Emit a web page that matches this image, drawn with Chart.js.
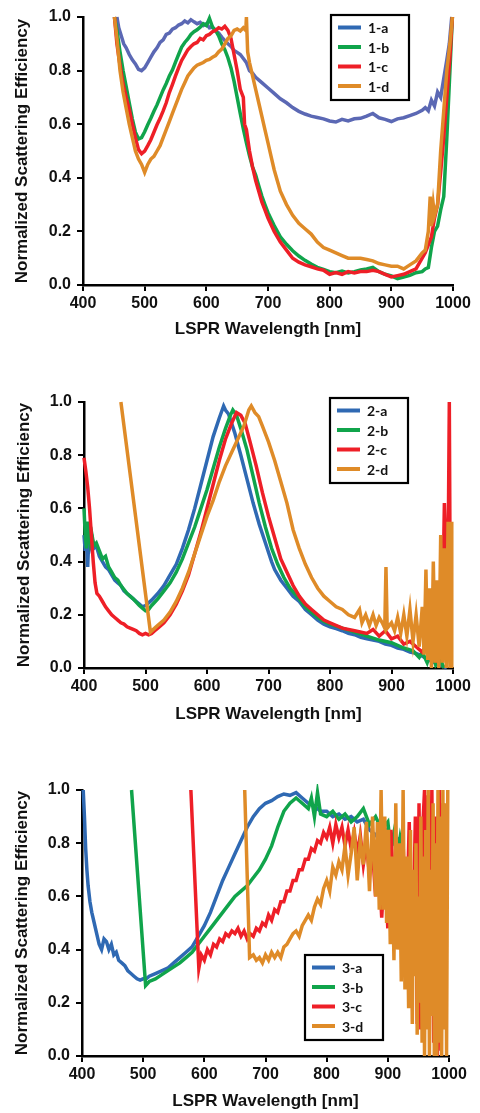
<!DOCTYPE html>
<html lang="en">
<head>
<meta charset="UTF-8">
<title>Normalized scattering spectra</title>
<script src="https://cdn.jsdelivr.net/npm/chart.js@4.4.0/dist/chart.umd.min.js"></script>
<style>
  body { margin: 0; background: #fff; }
  .panel { position: absolute; left: 0; width: 480px; }
  canvas { display: block; }
</style>
</head>
<body>
<div class="panel" style="top:0px"><canvas id="c1" width="480" height="350"></canvas></div>
<div class="panel" style="top:370px"><canvas id="c2" width="480" height="360"></canvas></div>
<div class="panel" style="top:750px"><canvas id="c3" width="480" height="363"></canvas></div>
<script>
// axis settings
const xMin = 400, xMax = 1000, xStep = 100;
const yMin = 0, yMax = 1, yStep = 0.2;
const xTitle = 'LSPR Wavelength [nm]';
const yTitle = 'Normalized Scattering Efficiency';

// panel 1  [wavelength nm, normalized value]
const names1 = ['1-a', '1-b', '1-c', '1-d'];
const s1a = [[455,1.0],[458,0.96],[462,0.93],[466,0.9],[470,0.885],[475,0.86],[480,0.84],[485,0.825],[490,0.805],[495,0.8],[500,0.81],[505,0.83],[510,0.85],[515,0.87],[520,0.885],[525,0.905],[530,0.915],[535,0.935],[540,0.94],[545,0.955],[550,0.96],[555,0.97],[560,0.975],[565,0.985],[570,0.978],[575,0.99],[580,0.982],[585,0.975],[590,0.98],[595,0.968],[600,0.975],[605,0.96],[610,0.962],[615,0.948],[620,0.94],[625,0.925],[630,0.912],[635,0.9],[640,0.89],[645,0.875],[650,0.868],[655,0.86],[660,0.845],[665,0.83],[670,0.8],[675,0.79],[680,0.775],[690,0.755],[700,0.735],[710,0.715],[720,0.695],[730,0.68],[740,0.662],[750,0.648],[760,0.638],[770,0.63],[780,0.625],[790,0.62],[800,0.612],[810,0.608],[820,0.618],[830,0.612],[840,0.62],[850,0.622],[860,0.63],[870,0.64],[880,0.624],[890,0.618],[900,0.61],[910,0.62],[920,0.624],[930,0.632],[940,0.64],[950,0.652],[955,0.662],[960,0.65],[965,0.69],[970,0.668],[975,0.72],[980,0.7],[985,0.77],[990,0.84],[994,0.9],[998,1.0]];
const s1b = [[451,1.0],[455,0.95],[460,0.87],[465,0.8],[470,0.74],[475,0.68],[480,0.62],[485,0.57],[490,0.545],[495,0.55],[500,0.572],[505,0.598],[510,0.622],[515,0.648],[520,0.672],[525,0.7],[530,0.728],[535,0.752],[540,0.78],[545,0.802],[550,0.832],[555,0.86],[560,0.888],[565,0.905],[570,0.918],[575,0.935],[580,0.945],[585,0.952],[590,0.962],[595,0.975],[600,0.968],[605,0.995],[610,0.962],[615,0.95],[620,0.93],[625,0.9],[630,0.878],[635,0.848],[640,0.81],[645,0.76],[650,0.7],[655,0.64],[660,0.582],[665,0.53],[670,0.482],[675,0.44],[680,0.41],[685,0.37],[690,0.332],[695,0.3],[700,0.27],[710,0.222],[720,0.18],[730,0.152],[740,0.128],[750,0.108],[760,0.092],[770,0.078],[780,0.066],[790,0.058],[800,0.05],[810,0.046],[820,0.052],[830,0.045],[840,0.05],[850,0.056],[860,0.06],[870,0.066],[880,0.05],[890,0.04],[900,0.034],[910,0.024],[920,0.03],[930,0.036],[940,0.046],[950,0.05],[955,0.06],[960,0.065],[965,0.14],[970,0.2],[975,0.22],[980,0.28],[985,0.33],[990,0.55],[995,0.8],[999,1.0]];
const s1c = [[451,1.0],[455,0.9],[460,0.82],[465,0.75],[470,0.7],[475,0.655],[480,0.6],[485,0.55],[490,0.505],[495,0.49],[500,0.5],[505,0.52],[510,0.542],[515,0.57],[520,0.598],[525,0.622],[530,0.65],[535,0.68],[540,0.718],[545,0.748],[550,0.78],[555,0.81],[560,0.838],[565,0.858],[570,0.878],[575,0.89],[580,0.9],[585,0.905],[590,0.92],[595,0.915],[600,0.93],[605,0.935],[610,0.945],[615,0.95],[620,0.96],[625,0.955],[630,0.965],[635,0.95],[640,0.92],[645,0.86],[650,0.8],[655,0.73],[660,0.7],[662,0.6],[665,0.58],[670,0.5],[675,0.44],[680,0.39],[685,0.35],[690,0.31],[695,0.28],[700,0.25],[710,0.2],[720,0.16],[730,0.13],[740,0.1],[750,0.085],[760,0.075],[770,0.068],[780,0.06],[790,0.055],[800,0.04],[810,0.046],[820,0.04],[830,0.05],[840,0.045],[850,0.05],[860,0.05],[870,0.055],[880,0.05],[890,0.04],[900,0.03],[910,0.035],[920,0.04],[930,0.05],[940,0.06],[950,0.1],[955,0.12],[960,0.15],[965,0.18],[970,0.25],[975,0.3],[980,0.42],[985,0.55],[990,0.7],[995,0.85],[999,1.0]];
const s1d = [[451,1.0],[455,0.92],[460,0.8],[465,0.72],[470,0.66],[475,0.6],[480,0.55],[485,0.5],[490,0.47],[495,0.45],[500,0.42],[505,0.45],[510,0.47],[515,0.48],[520,0.5],[525,0.52],[530,0.55],[535,0.58],[540,0.61],[545,0.64],[550,0.67],[555,0.7],[560,0.73],[565,0.755],[570,0.78],[575,0.795],[580,0.81],[585,0.82],[590,0.825],[595,0.83],[600,0.838],[605,0.842],[610,0.85],[615,0.856],[620,0.87],[625,0.88],[630,0.9],[635,0.92],[640,0.93],[645,0.95],[650,0.955],[655,0.948],[660,0.96],[664,0.95],[665,1.0],[667,0.87],[670,0.83],[675,0.78],[680,0.73],[685,0.68],[690,0.63],[695,0.58],[700,0.53],[705,0.48],[710,0.43],[715,0.39],[720,0.35],[730,0.3],[740,0.26],[750,0.23],[760,0.21],[770,0.19],[780,0.16],[790,0.14],[800,0.13],[810,0.12],[820,0.11],[830,0.1],[840,0.1],[850,0.1],[860,0.095],[870,0.09],[880,0.08],[890,0.075],[900,0.07],[910,0.07],[920,0.06],[930,0.075],[940,0.09],[950,0.12],[955,0.13],[960,0.2],[963,0.33],[965,0.22],[968,0.3],[970,0.26],[975,0.3],[980,0.5],[985,0.65],[990,0.8],[995,0.9],[999,1.0]];

// panel 2
const names2 = ['2-a', '2-b', '2-c', '2-d'];
const s2a = [[400,0.5],[402,0.44],[404,0.52],[406,0.38],[408,0.5],[410,0.46],[413,0.49],[416,0.45],[420,0.46],[425,0.42],[430,0.4],[435,0.38],[440,0.37],[445,0.35],[450,0.33],[455,0.32],[460,0.31],[465,0.29],[470,0.28],[475,0.27],[480,0.26],[485,0.25],[490,0.24],[495,0.23],[500,0.235],[505,0.245],[510,0.255],[520,0.28],[530,0.31],[540,0.35],[550,0.39],[560,0.45],[570,0.52],[580,0.6],[590,0.69],[600,0.78],[610,0.87],[620,0.94],[627,0.985],[630,0.97],[635,0.955],[645,0.885],[655,0.8],[665,0.71],[675,0.62],[685,0.54],[695,0.47],[705,0.4],[710,0.37],[720,0.33],[730,0.3],[740,0.27],[750,0.25],[760,0.22],[770,0.2],[780,0.18],[790,0.165],[800,0.155],[810,0.148],[820,0.14],[830,0.13],[840,0.125],[850,0.115],[860,0.11],[870,0.105],[880,0.1],[890,0.09],[900,0.085],[910,0.075],[920,0.07],[930,0.06],[940,0.055],[950,0.045],[960,0.03],[970,0.02],[980,0.01],[990,0.0]];
const s2b = [[400,0.6],[402,0.5],[404,0.45],[406,0.55],[408,0.5],[410,0.47],[413,0.5],[416,0.46],[420,0.47],[425,0.44],[430,0.41],[435,0.42],[440,0.38],[445,0.36],[450,0.34],[455,0.33],[460,0.31],[470,0.28],[480,0.26],[490,0.235],[495,0.225],[500,0.215],[505,0.22],[510,0.235],[520,0.26],[530,0.29],[540,0.32],[550,0.36],[560,0.41],[570,0.47],[580,0.53],[590,0.6],[600,0.67],[610,0.75],[620,0.83],[630,0.9],[638,0.95],[642,0.97],[648,0.95],[655,0.9],[665,0.82],[675,0.72],[685,0.62],[695,0.53],[705,0.45],[715,0.39],[725,0.34],[735,0.3],[750,0.26],[760,0.23],[770,0.21],[780,0.19],[790,0.175],[800,0.165],[820,0.15],[840,0.135],[860,0.12],[880,0.105],[900,0.095],[920,0.075],[935,0.065],[945,0.04],[950,0.06],[958,0.02],[965,0.07],[972,0.01],[980,0.03],[985,0.0]];
const s2c = [[400,0.79],[403,0.74],[406,0.68],[409,0.6],[412,0.5],[415,0.4],[418,0.32],[421,0.28],[425,0.27],[430,0.25],[435,0.23],[440,0.215],[445,0.2],[450,0.19],[455,0.18],[460,0.17],[465,0.165],[470,0.155],[475,0.15],[480,0.145],[485,0.14],[490,0.13],[495,0.125],[500,0.13],[505,0.125],[510,0.13],[515,0.14],[520,0.15],[530,0.17],[540,0.2],[550,0.24],[560,0.29],[570,0.35],[580,0.43],[590,0.51],[600,0.6],[610,0.69],[620,0.78],[630,0.86],[640,0.92],[648,0.96],[655,0.95],[662,0.92],[670,0.85],[680,0.76],[690,0.66],[700,0.57],[710,0.49],[720,0.41],[730,0.36],[740,0.31],[750,0.27],[760,0.24],[770,0.22],[780,0.2],[790,0.18],[800,0.17],[820,0.15],[840,0.14],[860,0.13],[870,0.145],[880,0.12],[890,0.14],[900,0.11],[910,0.12],[920,0.09],[930,0.1],[940,0.08],[950,0.06],[958,0.09],[965,0.03],[970,0.1],[975,0.02],[979,0.32],[982,0.05],[986,0.62],[989,0.4],[991,0.1],[994,1.0],[996,0.02]];
const s2d = [[460,1.0],[508,0.135],[515,0.15],[520,0.16],[530,0.18],[540,0.21],[550,0.25],[560,0.3],[570,0.36],[580,0.43],[590,0.5],[600,0.57],[610,0.63],[620,0.7],[630,0.76],[640,0.81],[650,0.86],[660,0.91],[668,0.97],[672,0.985],[678,0.96],[684,0.945],[690,0.91],[700,0.85],[710,0.78],[720,0.7],[730,0.62],[740,0.52],[750,0.45],[760,0.39],[770,0.34],[780,0.3],[790,0.27],[800,0.25],[810,0.23],[820,0.22],[830,0.2],[840,0.19],[848,0.22],[852,0.17],[858,0.2],[864,0.16],[870,0.2],[875,0.16],[880,0.19],[885,0.17],[889,0.15],[891,0.38],[893,0.15],[900,0.17],[905,0.14],[910,0.19],[915,0.13],[920,0.2],[925,0.12],[930,0.22],[935,0.1],[940,0.2],[945,0.08],[950,0.23],[953,0.05],[956,0.37],[959,0.03],[962,0.3],[965,0.0],[968,0.4],[971,0.02],[974,0.33],[977,0.0],[980,0.5],[983,0.02],[986,0.45],[989,0.0],[992,0.55],[995,0.0],[997,0.55],[998,0.0]];

// panel 3
const names3 = ['3-a', '3-b', '3-c', '3-d'];
const s3a = [[402,1.0],[404,0.9],[406,0.78],[408,0.7],[410,0.64],[413,0.58],[416,0.54],[420,0.5],[424,0.46],[428,0.42],[432,0.4],[436,0.44],[440,0.43],[444,0.4],[448,0.42],[452,0.38],[456,0.39],[460,0.36],[465,0.35],[470,0.34],[475,0.32],[480,0.31],[485,0.3],[490,0.29],[495,0.285],[500,0.29],[505,0.29],[510,0.3],[520,0.31],[530,0.32],[540,0.33],[550,0.35],[560,0.37],[570,0.39],[580,0.41],[590,0.45],[600,0.49],[610,0.54],[620,0.6],[630,0.66],[640,0.71],[650,0.76],[660,0.81],[670,0.86],[680,0.9],[690,0.93],[700,0.95],[710,0.96],[720,0.975],[730,0.985],[740,0.98],[750,0.99],[760,0.97],[770,0.95],[780,0.94],[790,0.92],[800,0.92],[810,0.9],[820,0.91],[830,0.89],[840,0.9],[850,0.88],[860,0.89],[870,0.85],[880,0.83],[890,0.86],[900,0.85],[910,0.8],[920,0.82],[925,0.78]];
const s3b = [[481,1.0],[504,0.265],[510,0.28],[520,0.29],[530,0.305],[540,0.32],[550,0.335],[560,0.35],[570,0.37],[580,0.39],[590,0.42],[600,0.45],[610,0.48],[620,0.51],[630,0.54],[640,0.57],[650,0.6],[660,0.62],[670,0.64],[680,0.67],[690,0.7],[700,0.74],[710,0.79],[720,0.86],[730,0.92],[740,0.95],[750,0.97],[760,0.95],[770,0.93],[775,0.97],[780,0.9],[785,0.99],[790,0.91],[800,0.9],[810,0.92],[820,0.89],[830,0.91],[840,0.88],[850,0.9],[860,0.93],[870,0.87],[880,0.9],[890,0.85],[900,0.88],[905,0.78],[910,0.84],[915,0.74],[920,0.82],[925,0.76]];
const s3c = [[578,1.0],[591,0.33],[595,0.38],[600,0.36],[605,0.4],[610,0.38],[615,0.42],[620,0.41],[625,0.44],[630,0.43],[635,0.46],[640,0.45],[645,0.47],[650,0.46],[655,0.48],[660,0.45],[665,0.47],[670,0.44],[675,0.46],[680,0.45],[685,0.48],[690,0.47],[695,0.5],[700,0.49],[705,0.53],[710,0.51],[715,0.55],[720,0.54],[725,0.58],[730,0.58],[735,0.62],[740,0.62],[745,0.66],[750,0.66],[755,0.7],[760,0.7],[765,0.74],[770,0.74],[775,0.78],[780,0.77],[785,0.81],[790,0.8],[795,0.84],[800,0.82],[805,0.86],[810,0.8],[815,0.87],[820,0.82],[825,0.86],[830,0.79],[835,0.85],[840,0.78],[845,0.84],[850,0.76],[855,0.83],[860,0.72],[865,0.8],[870,0.68],[875,0.77],[880,0.6],[885,0.75],[890,0.52],[895,0.72],[900,0.48],[905,0.85],[910,0.6],[915,0.72],[920,0.5],[925,0.8],[930,0.42],[935,0.88],[940,0.3],[945,0.9],[948,0.12],[951,0.95],[954,0.1],[957,0.85],[960,1.0],[963,0.3],[966,0.98],[969,0.2],[972,1.0],[975,0.05],[978,0.9],[981,0.0],[984,1.0],[987,0.02],[990,0.95],[993,0.85]];
const s3d = [[666,1.0],[674,0.37],[680,0.38],[685,0.36],[690,0.37],[695,0.35],[700,0.38],[705,0.36],[710,0.39],[715,0.37],[720,0.39],[725,0.37],[730,0.41],[735,0.42],[740,0.44],[745,0.46],[750,0.47],[755,0.45],[760,0.49],[765,0.51],[770,0.53],[775,0.51],[780,0.56],[785,0.59],[790,0.57],[795,0.63],[800,0.66],[805,0.62],[810,0.71],[815,0.68],[820,0.73],[825,0.7],[830,0.79],[835,0.68],[840,0.76],[845,0.86],[850,0.66],[855,0.81],[860,0.72],[865,0.88],[870,0.62],[875,0.9],[880,0.6],[883,0.88],[886,0.55],[889,1.0],[892,0.55],[895,0.9],[898,0.5],[901,0.85],[904,0.42],[907,0.75],[910,0.36],[913,0.95],[916,0.4],[919,0.8],[922,0.28],[925,1.0],[928,0.25],[931,0.75],[934,0.18],[937,0.85],[940,0.12],[942,0.7],[944,0.3],[946,0.8],[948,0.08],[950,0.6],[952,0.2],[954,0.9],[956,0.05],[958,0.75],[960,0.0],[962,0.85],[964,0.1],[966,1.0],[968,0.0],[970,0.7],[972,0.15],[974,0.95],[976,0.0],[978,0.8],[980,0.0],[982,1.0],[984,0.05],[986,0.9],[988,0.0],[990,1.0],[992,0.1],[994,0.95],[996,0.0],[998,1.0]];

const colors = ['#2f69b3', '#10a44b', '#ee1f27', '#df8b28'];
const colors1 = ['#5b68b4', '#10a44b', '#ee1f27', '#df8b28'];

const FONT = "'Liberation Sans', Arial, sans-serif";

// legend drawn as a framed box inside the plot
const boxLegend = {
    id: 'boxLegend',
    afterDatasetsDraw(chart, args, opts) {
        const ctx = chart.ctx;
        const l = opts.left, t = opts.top;
        ctx.save();
        ctx.fillStyle = '#fff';
        ctx.fillRect(l, t, 78, 85);
        ctx.lineWidth = 2.2;
        ctx.strokeStyle = '#000';
        ctx.strokeRect(l, t, 78, 85);
        ctx.font = "bold 14px Lato, 'Open Sans', sans-serif";
        ctx.textBaseline = 'middle';
        chart.data.datasets.forEach((ds, i) => {
            const y = t + 12.5 + i * 19.5;
            ctx.strokeStyle = ds.legendColor || ds.borderColor;
            ctx.lineWidth = 4;
            ctx.beginPath();
            ctx.moveTo(l + 7, y);
            ctx.lineTo(l + 30, y);
            ctx.stroke();
            ctx.fillStyle = '#111';
            ctx.fillText(ds.label, l + 37, y + 1);
        });
        ctx.restore();
    }
};

function makeChart(id, series, names, lineColors, area, legendAt, pads) {
    const canvas = document.getElementById(id);
    const H = canvas.height;
    return new Chart(canvas, {
        type: 'line',
        data: {
            datasets: series.map((s, i) => ({
                label: names[i],
                data: s.map(p => ({ x: p[0], y: p[1] })),
                borderColor: lineColors[i],
                legendColor: colors[i],
                borderWidth: 3.5,
                pointRadius: 0,
                tension: 0,
                fill: false,
                clip: 6,
                order: series.length - 1 - i
            }))
        },
        options: {
            responsive: false,
            animation: false,
            events: [],
            layout: { padding: { top: area.top, right: 480 - area.right, left: 0, bottom: 0 } },
            plugins: {
                legend: { display: false },
                tooltip: { enabled: false },
                boxLegend: legendAt
            },
            scales: {
                x: {
                    type: 'linear',
                    min: xMin, max: xMax,
                    afterFit: s => { s.height = H - area.bottom; },
                    ticks: { stepSize: xStep, color: '#111', padding: 3, maxRotation: 0, autoSkip: false,
                             callback: v => String(v),
                             font: { family: FONT, size: 16, weight: 'bold' } },
                    grid: { drawOnChartArea: false, drawTicks: true, tickLength: 6, color: '#000', lineWidth: 2 },
                    border: { display: true, color: '#000', width: 2.5 },
                    title: { display: true, text: xTitle, color: '#111',
                             font: { family: FONT, size: 17, weight: 'bold' },
                             padding: { top: 0, bottom: pads.x } }
                },
                y: {
                    min: yMin, max: yMax,
                    afterFit: s => { s.width = area.left; },
                    ticks: { stepSize: yStep, color: '#111', padding: 6,
                             callback: v => v.toFixed(1),
                             font: { family: FONT, size: 16, weight: 'bold' } },
                    grid: { drawOnChartArea: false, drawTicks: true, tickLength: 6, color: '#000', lineWidth: 2 },
                    border: { display: true, color: '#000', width: 2.5 },
                    title: { display: true, text: yTitle, color: '#111',
                             font: { family: FONT, size: 17, weight: 'bold' },
                             padding: { top: pads.y, bottom: 0 } }
                }
            }
        },
        plugins: [boxLegend]
    });
}

makeChart('c1', [s1a, s1b, s1c, s1d], names1, colors1,
    { left: 83, right: 453, top: 17, bottom: 285 }, { left: 331, top: 15 }, { x: 10, y: 12 });
makeChart('c2', [s2a, s2b, s2c, s2d], names2, colors,
    { left: 84, right: 453, top: 32, bottom: 298 }, { left: 330, top: 28 }, { x: 5, y: 14 });
makeChart('c3', [s3a, s3b, s3c, s3d], names3, colors,
    { left: 82, right: 449, top: 40, bottom: 306 }, { left: 305, top: 205 }, { x: 1, y: 12 });
</script>
</body>
</html>
